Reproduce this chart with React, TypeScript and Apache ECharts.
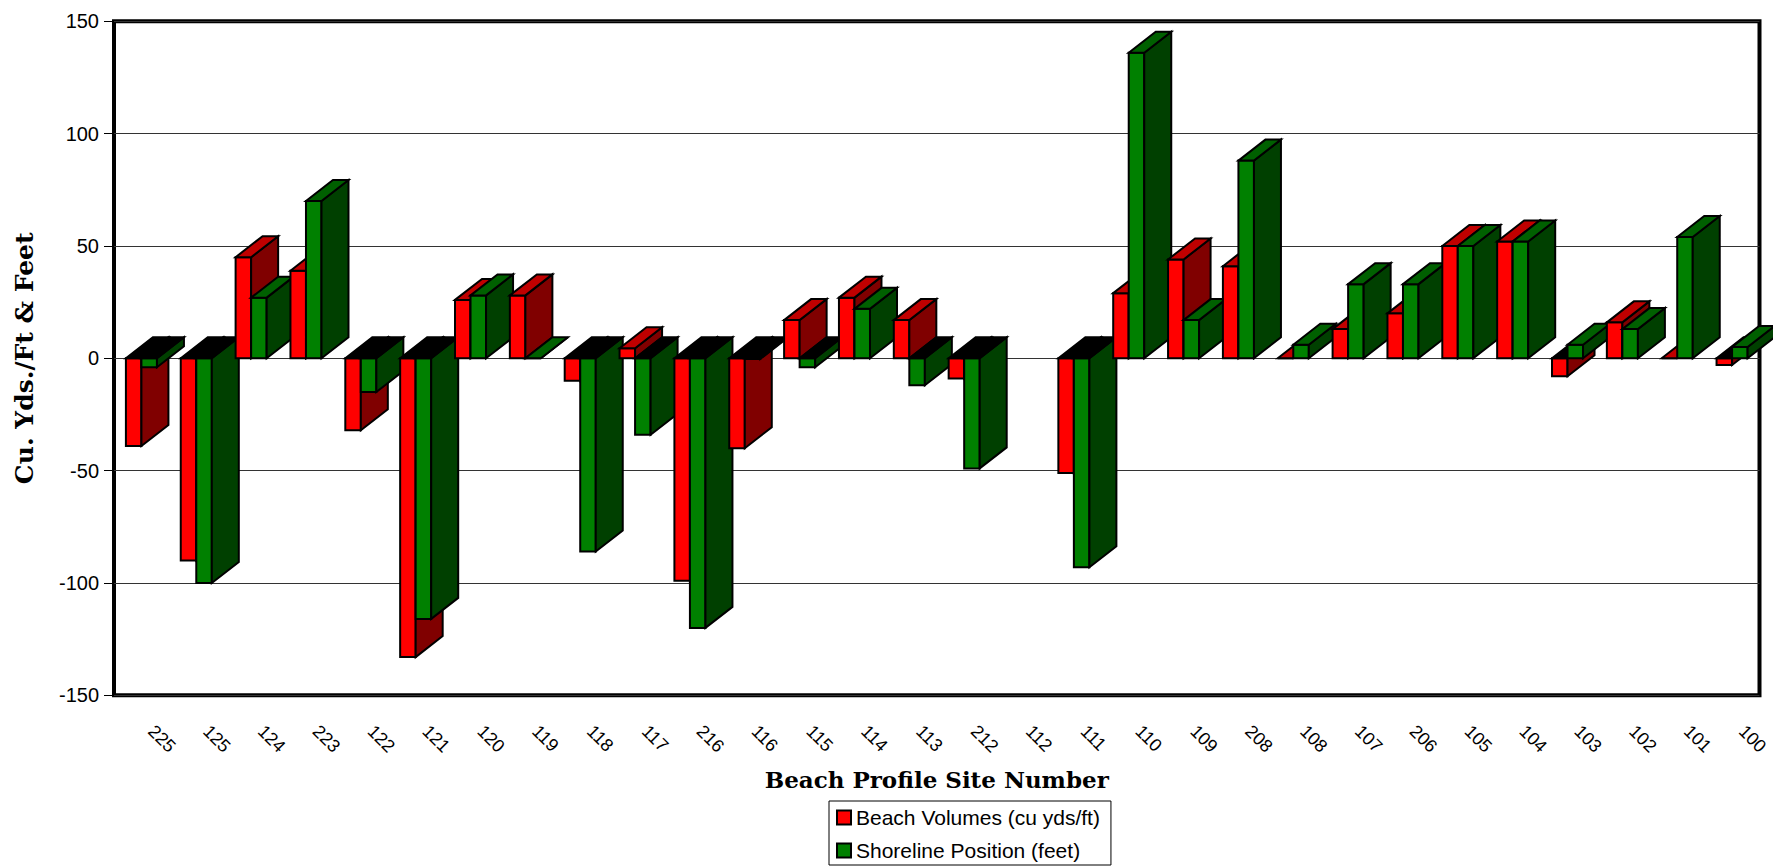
import React, { useEffect, useRef } from "react";
import * as echarts from "echarts";

const sites = [
  "225", "125", "124", "223", "122", "121", "120", "119", "118", "117",
  "216", "116", "115", "114", "113", "212", "112", "111", "110", "109",
  "208", "108", "107", "206", "105", "104", "103", "102", "101", "100",
];
const beachVolumes: (number | null)[] = [
  -39, -90, 45, 39, -32, -133, 26, 28, -10, 4.5,
  -99, -40, 17, 27, 17, -9, null, -51, 29, 44,
  41, 0, 13, 20, 50, 52, -8, 16, 0, -3,
];
const shorelinePosition: (number | null)[] = [
  -4, -100, 27, 70, -15, -116, 28, 0, -86, -34,
  -120, -0.3, -4, 22, -12, -49, null, -93, 136, 17,
  88, 6, 33, 33, 50, 52, 6, 13, 54, 5,
];
const yTicks = { min: -150, max: 150, interval: 50 };

const SERIES_RED = "Beach Volumes (cu yds/ft)";
const SERIES_GREEN = "Shoreline Position (feet)";

const RED = { front: "#FF0000", top: "#C00000", side: "#800000" };
const GREEN = { front: "#008000", top: "#006000", side: "#004000" };
const BAR_FRAC = 0.283;
const DX = 27;
const DY = -21;

function renderItem(params: any, api: any) {
  const idx = api.value(0);
  const red = api.value(1);
  const green = api.value(2);
  const base = api.coord([idx, 0]);
  const zeroY = base[1];
  const catW = api.size([1, 0])[0];
  const bw = catW * BAR_FRAC;
  const children: any[] = [];
  const stroke = { stroke: "#000", lineWidth: 2, lineJoin: "miter" };
  const addBar = (x0: number, v: number, pal: typeof RED) => {
    if (v == null || isNaN(v)) return;
    const yv = api.coord([idx, v])[1];
    const yTop = Math.min(yv, zeroY);
    const yBot = Math.max(yv, zeroY);
    const x1 = x0 + bw;
    const positive = v >= 0;
    children.push({
      type: "polygon",
      shape: { points: [[x0, yTop], [x1, yTop], [x1, yBot], [x0, yBot]] },
      style: { fill: pal.front, ...stroke },
    });
    children.push({
      type: "polygon",
      shape: { points: [[x1, yTop], [x1 + DX, yTop + DY], [x1 + DX, yBot + DY], [x1, yBot]] },
      style: { fill: pal.side, ...stroke },
    });
    children.push({
      type: "polygon",
      shape: { points: [[x0, yTop], [x0 + DX, yTop + DY], [x1 + DX, yTop + DY], [x1, yTop]] },
      style: { fill: positive ? pal.top : "#000000", ...stroke },
    });
  };
  addBar(base[0] - bw, red, RED);
  addBar(base[0], green, GREEN);
  return { type: "group", children };
}

export default function App() {
  const ref = useRef<HTMLDivElement>(null);
  useEffect(() => {
    const chart = echarts.init(ref.current!, null, { renderer: "svg" });
    const data = sites.map((_, i) => [
      i,
      beachVolumes[i] == null ? NaN : beachVolumes[i],
      shorelinePosition[i] == null ? NaN : shorelinePosition[i],
    ]);
    chart.setOption({
      animation: false,
      backgroundColor: "#ffffff",
      textStyle: { fontFamily: "Liberation Sans", color: "#000" },
      grid: {
        left: 114,
        right: 13.5,
        top: 21.3,
        bottom: 171.7,
        show: true,
        borderColor: "#000",
        borderWidth: 4,
        backgroundColor: "transparent",
      },
      legend: {
        orient: "vertical",
        left: 829,
        top: 801,
        padding: [6, 11, 4, 7],
        itemGap: 12,
        itemWidth: 14,
        itemHeight: 14,
        icon: "rect",
        selectedMode: false,
        borderColor: "#000",
        borderWidth: 1,
        backgroundColor: "#fff",
        itemStyle: { borderColor: "#000", borderWidth: 2 },
        textStyle: { fontFamily: "Liberation Sans", fontSize: 21, lineHeight: 21, color: "#000" },
        data: [SERIES_RED, SERIES_GREEN],
      },
      xAxis: {
        type: "category",
        data: sites,
        boundaryGap: true,
        axisLine: { show: false },
        axisTick: { show: false },
        splitLine: { show: false },
        axisLabel: {
          interval: 0,
          rotate: -45,
          margin: 23,
          padding: [0, 0, 0, 14],
          fontSize: 18,
          fontFamily: "Liberation Sans",
          color: "#000",
        },
        name: "Beach Profile Site Number",
        nameLocation: "middle",
        nameGap: 73,
        nameTextStyle: {
          fontFamily: "DejaVu Serif",
          fontWeight: "bold",
          fontSize: 23,
          color: "#000",
        },
      },
      yAxis: {
        type: "value",
        min: yTicks.min,
        max: yTicks.max,
        interval: yTicks.interval,
        axisLine: { show: false },
        axisTick: { show: true, length: 10, lineStyle: { color: "#000", width: 1 } },
        splitLine: { show: true, lineStyle: { color: "#333", width: 1 } },
        axisLabel: { margin: 15, fontSize: 20, fontFamily: "Liberation Sans", color: "#000" },
        name: "Cu. Yds./Ft & Feet",
        nameLocation: "middle",
        nameGap: 77,
        nameRotate: 90,
        nameTextStyle: {
          fontFamily: "DejaVu Serif",
          fontWeight: "bold",
          fontSize: 25,
          color: "#000",
        },
      },
      series: [
        {
          type: "custom",
          name: "bars3d",
          renderItem,
          clip: false,
          encode: { x: 0, y: [1, 2] },
          data,
          z: 3,
        },
        { type: "bar", name: SERIES_RED, data: [], itemStyle: { color: RED.front, borderColor: "#000", borderWidth: 2 } },
        { type: "bar", name: SERIES_GREEN, data: [], itemStyle: { color: GREEN.front, borderColor: "#000", borderWidth: 2 } },
      ],
    });
    return () => chart.dispose();
  }, []);
  return (
    <div
      ref={ref}
      style={{ position: "fixed", left: 0, top: 0, width: 1773, height: 867, background: "#fff" }}
    />
  );
}
